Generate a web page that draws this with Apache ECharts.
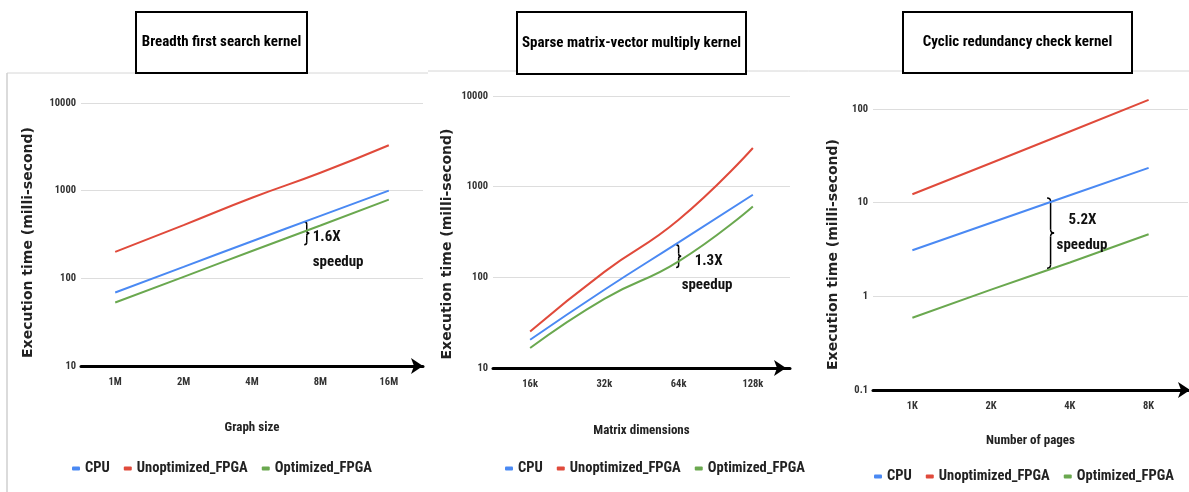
<!DOCTYPE html>
<html>
<head>
<meta charset="utf-8">
<title>Kernel execution time</title>
<script src="https://cdn.jsdelivr.net/npm/echarts@6/dist/echarts.min.js"></script>
<style>
  html, body { margin: 0; padding: 0; background: #ffffff; }
  #chart { width: 1189px; height: 492px; }
</style>
</head>
<body>
<div id="chart"></div>
<script>
// ---- data ----
const seriesNames = ['CPU', 'Unoptimized_FPGA', 'Optimized_FPGA'];

const bfsSizes = ['1M', '2M', '4M', '8M', '16M'];
const bfsCpu = [69, 135, 265, 515, 1000];
const bfsUnopt = [200, 405, 830, 1600, 3300];
const bfsOpt = [53, 104, 205, 400, 790];

const spmvDims = ['16k', '32k', '64k', '128k'];
const spmvCpu = [20.5, 73, 243, 815];
const spmvUnopt = [25.3, 115, 431, 2670];
const spmvOpt = [16.6, 58, 150, 605];

const crcPages = ['1K', '2K', '4K', '8K'];
const crcCpu = [3.1, 6.1, 12, 23.5];
const crcUnopt = [12.3, 26.5, 57.5, 125];
const crcOpt = [0.59, 1.18, 2.3, 4.6];

const panelTitles = ['Breadth first search kernel', 'Sparse matrix-vector multiply kernel', 'Cyclic redundancy check kernel'];
const xNames = ['Graph size', 'Matrix dimensions', 'Number of pages'];
const yName = 'Execution time (milli-second)';
const speedups = ['1.6X', '1.3X', '5.2X'];
const speedupWord = 'speedup';

// ---- styling ----
const NARROW = "'Roboto Condensed','DejaVu Sans Condensed',sans-serif";
const WIDE = "'DejaVu Sans','Liberation Sans',sans-serif";
const COLORS = ['#4a89f3', '#e04a3b', '#6aa84f'];

const panels = [
  { cats: bfsSizes, data: [bfsCpu, bfsUnopt, bfsOpt], min: 10, max: 10000,
    grid: { left: 81, top: 103, width: 342, height: 263 },
    arrowOff: 0, xGap: 55, yGap: 46, yPad: [0, 16, 0, 0] },
  { cats: spmvDims, data: [spmvCpu, spmvUnopt, spmvOpt], min: 10, max: 10000,
    grid: { left: 493, top: 96, width: 297, height: 272 },
    arrowOff: -4, xGap: 56, yGap: 39, yPad: [0, 24, 0, 0] },
  { cats: crcPages, data: [crcCpu, crcUnopt, crcOpt], min: 0.1, max: 100,
    grid: { left: 873, top: 109, width: 315, height: 281 },
    arrowOff: 2, xGap: 44, yGap: 33, yPad: [0, 10, 0, 0] }
];

// log tick labels without thousands separators
function plainNumber(v) { return String(+v.toPrecision(6)); }

const grids = [], xAxes = [], yAxes = [], series = [];
panels.forEach(function (p, i) {
  grids.push(Object.assign({ containLabel: false }, p.grid));
  xAxes.push({
    type: 'category', gridIndex: i, data: p.cats, boundaryGap: true,
    axisLine: { show: true, onZero: false, lineStyle: { color: '#000', width: 3 },
      symbol: ['none', 'arrow'], symbolSize: [12, 12], symbolOffset: [0, p.arrowOff] },
    axisTick: { show: false },
    axisLabel: { margin: 11, fontFamily: NARROW, fontWeight: 'bold', fontSize: 10.5, color: '#333' },
    splitLine: { show: false },
    name: xNames[i], nameLocation: 'middle', nameGap: p.xGap,
    nameTextStyle: { fontFamily: NARROW, fontWeight: 'bold', fontSize: 13, color: '#222' }
  });
  yAxes.push({
    type: 'log', logBase: 10, gridIndex: i, min: p.min, max: p.max,
    axisLine: { show: false }, axisTick: { show: false },
    axisLabel: { margin: 5, fontFamily: NARROW, fontWeight: 'bold', fontSize: 10.5, color: '#333', formatter: plainNumber },
    splitLine: { show: true, lineStyle: { color: '#dddddd', width: 1 } },
    name: yName, nameLocation: 'middle', nameGap: p.yGap, nameRotate: 90,
    nameTextStyle: { fontFamily: WIDE, fontWeight: 'bold', fontSize: 14, color: '#222', padding: p.yPad }
  });
  p.data.forEach(function (vals, k) {
    series.push({
      name: seriesNames[k], type: 'line', xAxisIndex: i, yAxisIndex: i,
      data: vals, smooth: true, showSymbol: false, symbol: 'none', clip: false,
      color: COLORS[k], lineStyle: { color: COLORS[k], width: 2 }, z: 3 + (k === 0 ? 1 : 0)
    });
  });
});

const legendPos = [{ left: 72, top: 461 }, { left: 505, top: 461 }, { left: 874, top: 469 }];
const legends = legendPos.map(function (pos) {
  return Object.assign({
    data: seriesNames, icon: 'roundRect', itemWidth: 8, itemHeight: 4, itemGap: 14,
    padding: 0, width: 320,
    textStyle: { fontFamily: NARROW, fontWeight: 'bold', fontSize: 14.5, color: '#222' }
  }, pos);
});

const chart = echarts.init(document.getElementById('chart'), null, { renderer: 'canvas' });
chart.setOption({
  animation: false,
  backgroundColor: '#ffffff',
  grid: grids, xAxis: xAxes, yAxis: yAxes, series: series, legend: legends
});

// ---- annotations: braces between lines, anchored in data space ----
function at(panel, catPos, value) {
  const lo = Math.floor(catPos), hi = Math.ceil(catPos);
  const a = chart.convertToPixel({ xAxisIndex: panel, yAxisIndex: panel }, [lo, value]);
  const b = chart.convertToPixel({ xAxisIndex: panel, yAxisIndex: panel }, [hi, value]);
  const f = catPos - lo;
  return [a[0] + (b[0] - a[0]) * f, a[1]];
}
// a right-pointing curly brace built from lines and quadratic curves
function braceParts(x, t, b, w) {
  const m = (t + b) / 2;
  const st = { stroke: '#000', lineWidth: 1.5, fill: null };
  return [
    { type: 'bezierCurve', shape: { x1: x - w, y1: t, cpx1: x, cpy1: t, x2: x, y2: t + w }, style: st },
    { type: 'line', shape: { x1: x, y1: t + w, x2: x, y2: m - w }, style: st },
    { type: 'bezierCurve', shape: { x1: x, y1: m - w, cpx1: x, cpy1: m, x2: x + w, y2: m }, style: st },
    { type: 'bezierCurve', shape: { x1: x + w, y1: m, cpx1: x, cpy1: m, x2: x, y2: m + w }, style: st },
    { type: 'line', shape: { x1: x, y1: m + w, x2: x, y2: b - w }, style: st },
    { type: 'bezierCurve', shape: { x1: x, y1: b - w, cpx1: x, cpy1: b, x2: x - w, y2: b }, style: st }
  ];
}
const braces = [
  { panel: 0, cat: 2.8, top: 443, bottom: 241, w: 2.5, lbl: [6, 16], word: [6, 41] },
  { panel: 1, cat: 2, top: 229, bottom: 128, w: 2.5, lbl: [16, 17], word: [3, 41] },
  { panel: 2, cat: 1.755, top: 11.2, bottom: 2.0, w: 3.5, lbl: [18, 22], word: [6, 47] }
];

const graphics = [];
// panel frame lines
graphics.push({ type: 'line', shape: { x1: 7, y1: 73, x2: 428, y2: 73 }, style: { stroke: '#d6d6d6', lineWidth: 1 } });
graphics.push({ type: 'line', shape: { x1: 428, y1: 71, x2: 1189, y2: 71 }, style: { stroke: '#d6d6d6', lineWidth: 1 } });
graphics.push({ type: 'line', shape: { x1: 7, y1: 73, x2: 7, y2: 492 }, style: { stroke: '#cfcfcf', lineWidth: 1.5 } });

// boxed panel titles
const titleBoxes = [[136, 12, 171, 61], [517, 12, 229, 62], [903, 12, 229, 61]];
titleBoxes.forEach(function (r, i) {
  graphics.push({ type: 'rect', z: 10, shape: { x: r[0], y: r[1], width: r[2], height: r[3] },
    style: { fill: '#ffffff', stroke: '#000000', lineWidth: 2 } });
  graphics.push({ type: 'text', z: 11, x: r[0] + r[2] / 2, y: r[1] + r[3] / 2,
    style: { text: panelTitles[i], font: 'bold 15px ' + NARROW, fill: '#000', align: 'center', verticalAlign: 'middle' } });
});

braces.forEach(function (bc, i) {
  const p1 = at(bc.panel, bc.cat, bc.top);
  const p2 = at(bc.panel, bc.cat, bc.bottom);
  const x = p1[0], t = p1[1], b = p2[1];
  graphics.push({ type: 'group', z: 12, children: braceParts(x, t, b, bc.w) });
  graphics.push({ type: 'text', z: 12, x: x + bc.lbl[0], y: t + bc.lbl[1],
    style: { text: speedups[i], font: 'bold 15px ' + NARROW, fill: '#111', align: 'left', verticalAlign: 'middle' } });
  graphics.push({ type: 'text', z: 12, x: x + bc.word[0], y: t + bc.word[1],
    style: { text: speedupWord, font: 'bold 15px ' + NARROW, fill: '#111', align: 'left', verticalAlign: 'middle' } });
});

chart.setOption({ graphic: graphics });
</script>
</body>
</html>
